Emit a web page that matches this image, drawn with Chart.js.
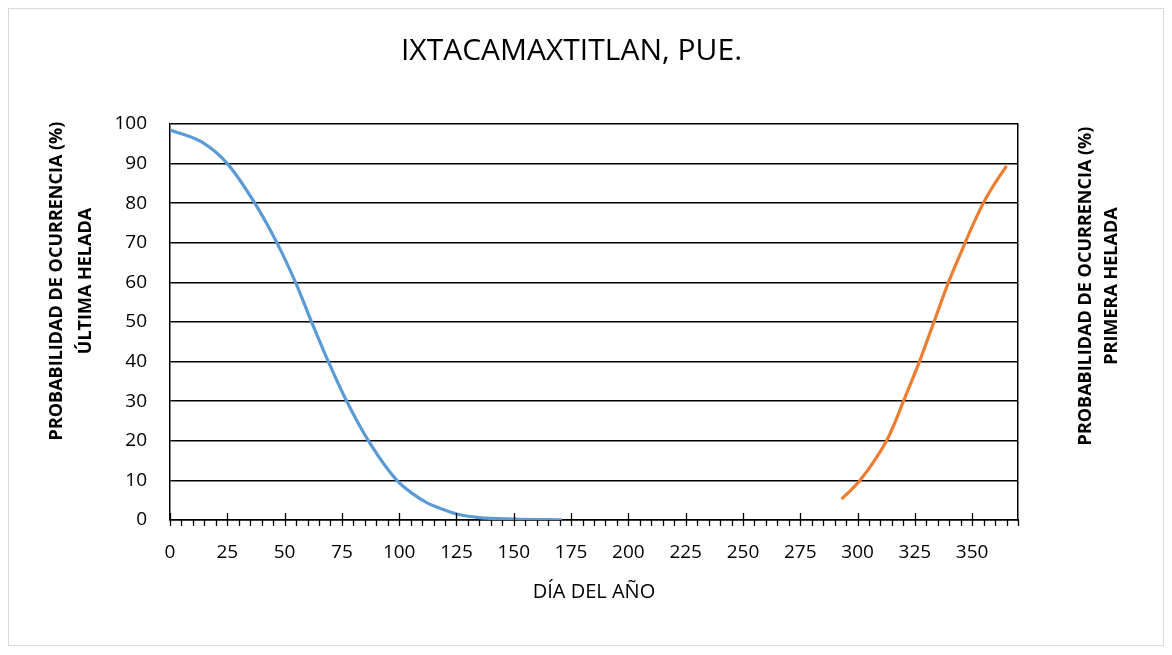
<!DOCTYPE html>
<html>
<head>
<meta charset="utf-8">
<title>Ixtacamaxtitlan, Pue.</title>
<script src="https://cdn.jsdelivr.net/npm/chart.js@4.4.0/dist/chart.umd.min.js"></script>
<style>
  body { margin: 0; background: #fff; }
  canvas { display: block; }
</style>
</head>
<body>
<canvas id="heladaChart" width="1172" height="655"></canvas>
<script>
// probabilidad de la última helada (primavera)
let ultimaDias = [0, 14, 25, 37, 47, 55, 62, 69, 77, 87, 99, 106, 112, 118, 125, 135, 150, 171];
let ultimaProb = [98.5, 95.4, 90.0, 80.0, 69.6, 59.7, 49.7, 40.1, 30.1, 19.6, 10.0, 6.6, 4.4, 2.9, 1.5, 0.6, 0.25, 0.05];

// probabilidad de la primera helada (otoño)
let primeraDias = [293, 297, 301, 307, 313, 317, 320, 327, 333, 340, 347, 351, 355, 360, 365];
let primeraProb = [5.3, 7.5, 10.0, 14.7, 20.4, 25.6, 30.0, 40.0, 49.5, 60.5, 70.1, 75.4, 80.2, 85.1, 89.4];

// etiquetas de los ejes
let diaEtiquetas = [0, 25, 50, 75, 100, 125, 150, 175, 200, 225, 250, 275, 300, 325, 350];
let probEtiquetas = [0, 10, 20, 30, 40, 50, 60, 70, 80, 90, 100];

const fuente = "'Open Sans', sans-serif";

function toPoints(dias, prob) {
  return dias.map((d, i) => ({ x: d, y: prob[i] }));
}

const marcoPlugin = {
  id: 'marco',
  beforeDraw(chart) {
    const ctx = chart.ctx;
    ctx.save();
    ctx.fillStyle = '#fff';
    ctx.fillRect(0, 0, chart.width, chart.height);
    ctx.strokeStyle = '#d9d9d9';
    ctx.lineWidth = 1;
    ctx.strokeRect(8.5, 8.5, chart.width - 17, chart.height - 18);
    ctx.restore();
  },
  afterDraw(chart) {
    const ctx = chart.ctx;
    const area = chart.chartArea;
    const xs = chart.scales.x;
    ctx.save();
    // marcas del eje X: las mayores cruzan el eje, las menores van hacia fuera
    ctx.strokeStyle = '#000';
    ctx.lineWidth = 1.3;
    ctx.beginPath();
    xs.ticks.forEach(t => {
      const px = Math.round(xs.getPixelForValue(t.value)) + 0.5;
      const mayor = t.value % 25 === 0;
      ctx.moveTo(px, area.bottom + 6);
      ctx.lineTo(px, mayor ? area.bottom - 7 : area.bottom);
    });
    ctx.stroke();

    // títulos verticales, leídos de abajo hacia arriba
    ctx.fillStyle = '#000';
    ctx.font = 'bold 18px ' + fuente;
    ctx.textAlign = 'center';
    ctx.textBaseline = 'middle';
    const vertical = (texto, x, y) => {
      ctx.save();
      ctx.translate(x, y);
      ctx.rotate(-Math.PI / 2);
      ctx.fillText(texto, 0, 0);
      ctx.restore();
    };
    vertical('PROBABILIDAD DE OCURRENCIA (%)', area.left - 113, area.top + 157);
    vertical('ÚLTIMA HELADA', area.left - 84, area.top + 157);
    vertical('PROBABILIDAD DE OCURRENCIA (%)', area.right + 68, area.top + 162);
    vertical('PRIMERA HELADA', area.right + 94, area.top + 162);
    ctx.restore();
  }
};

const ctx = document.getElementById('heladaChart').getContext('2d');
new Chart(ctx, {
  type: 'line',
  data: {
    datasets: [
      {
        label: 'Última helada',
        data: toPoints(ultimaDias, ultimaProb),
        borderColor: '#5b9bd5',
        borderWidth: 3.2,
        pointRadius: 0,
        cubicInterpolationMode: 'monotone',
        fill: false
      },
      {
        label: 'Primera helada',
        data: toPoints(primeraDias, primeraProb),
        borderColor: '#ed7d31',
        borderWidth: 3.2,
        pointRadius: 0,
        cubicInterpolationMode: 'monotone',
        fill: false,
        yAxisID: 'y2'
      }
    ]
  },
  options: {
    responsive: false,
    animation: false,
    layout: { padding: { top: 0, left: 0, right: 29, bottom: 0 } },
    plugins: {
      legend: { display: false },
      tooltip: { enabled: false },
      title: {
        display: true,
        text: 'IXTACAMAXTITLAN, PUE.',
        color: '#000',
        font: { family: fuente, size: 30, weight: 'normal' },
        padding: { top: 33, bottom: 55 }
      }
    },
    scales: {
      x: {
        type: 'linear',
        min: 0,
        max: 370,
        afterBuildTicks(scale) {
          const ticks = [];
          for (let v = 0; v <= 370; v += 5) ticks.push({ value: v });
          scale.ticks = ticks;
        },
        afterFit(scale) { scale.height = 135; },
        ticks: {
          autoSkip: false,
          maxRotation: 0,
          padding: 21,
          color: '#000',
          font: { family: fuente, size: 19 },
          callback: v => diaEtiquetas.includes(v) ? String(v) : ''
        },
        grid: { display: false, drawTicks: false },
        border: { display: true, color: '#000', width: 1.5 },
        title: {
          display: true,
          text: 'DÍA DEL AÑO',
          color: '#000',
          font: { family: fuente, size: 20 },
          padding: { top: 0, bottom: 51 }
        }
      },
      y: {
        min: 0,
        max: 100,
        afterBuildTicks(scale) {
          scale.ticks = probEtiquetas.map(v => ({ value: v }));
        },
        afterFit(scale) { scale.width = 170; },
        ticks: {
          padding: 23,
          color: '#000',
          font: { family: fuente, size: 19 }
        },
        grid: { color: '#000', lineWidth: 1.5, drawTicks: false },
        border: { display: true, color: '#000', width: 1.5 }
      },
      y2: {
        position: 'right',
        min: 0,
        max: 100,
        afterFit(scale) { scale.width = 125; },
        ticks: { display: false },
        grid: { drawOnChartArea: false, drawTicks: false },
        border: { display: true, color: '#000', width: 1.5 }
      }
    }
  },
  plugins: [marcoPlugin]
});
</script>
</body>
</html>
